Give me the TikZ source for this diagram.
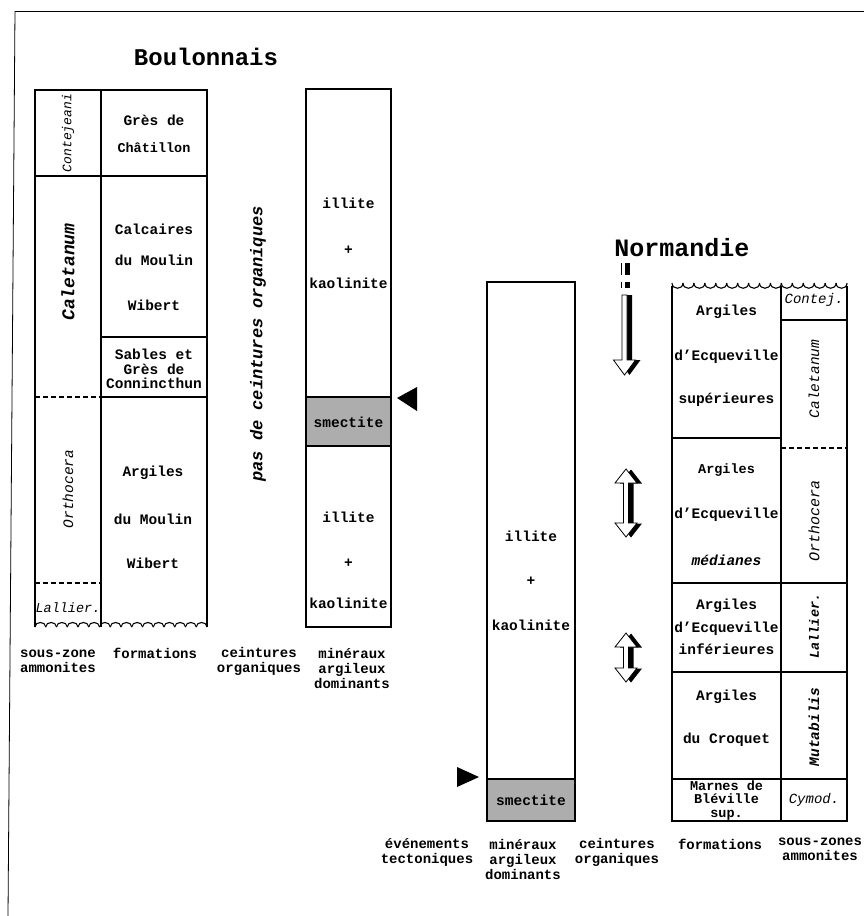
\documentclass[tikz,border=0pt]{standalone}
\usepackage{fontspec}
\setmainfont{Liberation Mono}
\setmonofont{Liberation Mono}
\begin{document}
\begin{tikzpicture}[x=1pt,y=-1pt,
  box/.style={line width=1.1pt},
  thinl/.style={line width=0.8pt},
  dsh/.style={line width=1.1pt, dash pattern=on 5pt off 3pt},
  ft/.style={font=\bfseries\fontsize{14.5}{15}\selectfont, inner sep=0pt, align=center},
  fts/.style={font=\bfseries\fontsize{13.5}{14}\selectfont, inner sep=0pt, align=center},
  lb/.style={font=\bfseries\fontsize{14}{15}\selectfont, inner sep=0pt, align=center},
  ttl/.style={font=\bfseries\fontsize{24}{24}\selectfont, inner sep=0pt},
  zr/.style={rotate=90, inner sep=0pt},
  smect/.style={fill=black!32},
  arw/.style={fill=white, draw=black, line width=0.8pt, line join=miter},
  shad/.style={fill=black},
]
\useasboundingbox (0,0) rectangle (864,916);
% frame
\draw[thinl] (15,11) -- (864,11);
\draw[thinl] (15,11) -- (8,916);

% ================= Boulonnais =================
\node[ttl] (tB) at (206,57) {Boulonnais};
\draw[box] (35,627) -- (35,90) -- (207,90) -- (207,627);
\draw[box] (101,90) -- (101,627);
\draw[box] (35,176) -- (207,176);
\draw[box] (101,337) -- (207,337);
\draw[box] (101,397) -- (207,397);
\draw[dsh] (35,397) -- (101,397);
\draw[dsh] (35,583) -- (101,583);
\foreach \i in {0,...,15}
  \draw[box] ({35+\i*10.75},627) .. controls +(0,-6) and +(0,-6) .. ({35+(\i+1)*10.75},627);

\node[zr, font=\itshape\fontsize{13}{13}\selectfont] (zB1) at (68,133) {Contejeani};
\node[zr, font=\bfseries\itshape\fontsize{18}{18}\selectfont] (zB2) at (68,272) {Caletanum};
\node[zr, font=\itshape\fontsize{14.5}{15}\selectfont] (zB3) at (68,489) {Orthocera};
\node[inner sep=0pt, font=\itshape\fontsize{13.5}{14}\selectfont] (zB4) at (68,608) {Lallier.};

\node[ft] (fB1a) at (154,120) {Grès de};
\node[fts] (fB1b) at (154,148) {Châtillon};
\node[ft] (fB2a) at (154,229) {Calcaires};
\node[ft] (fB2b) at (154,260) {du Moulin};
\node[ft] (fB2c) at (154,305) {Wibert};
\node[ft, font=\bfseries\fontsize{14.5}{14.5}\selectfont] (fB3) at (154,369) {Sables et\\Grès de\\Connincthun};
\node[ft] (fB4a) at (153,473) {Argiles};
\node[ft] (fB4b) at (153,519) {du Moulin};
\node[ft] (fB4c) at (153,563) {Wibert};

\node[zr, font=\bfseries\itshape\fontsize{17}{17}\selectfont] (pas) at (258,344) {pas de ceintures organiques};

\fill[smect] (306,397) rectangle (391,446);
\draw[box] (306,89) rectangle (391,627);
\draw[box] (306,397) -- (391,397);
\draw[box] (306,446) -- (391,446);
\node[ft] (mB1) at (348.5,203) {illite};
\node[ft] (mB2) at (348.5,250) {+};
\node[ft] (mB3) at (348.5,283) {kaolinite};
\node[ft] (mB4) at (348.5,422) {smectite};
\node[ft] (mB5) at (348.5,517) {illite};
\node[ft] (mB6) at (348.5,563) {+};
\node[ft] (mB7) at (348.5,603) {kaolinite};
\fill (397,398) -- (417,387) -- (417,411) -- cycle;

\node[lb] (lB1) at (58,661) {sous-zone\\ammonites};
\node[lb] (lB2) at (155,653) {formations};
\node[lb] (lB3) at (259,661) {ceintures\\organiques};
\node[lb] (lB4) at (352,668) {minéraux\\argileux\\dominants};

% ================= Normandie =================
\node[ttl, font=\bfseries\fontsize{25}{25}\selectfont] (tN) at (682,248) {Normandie};

\fill[smect] (487,779) rectangle (575,821);
\draw[box] (487,282) rectangle (575,821);
\draw[box] (487,779) -- (575,779);
\node[ft] (mN1) at (531,536) {illite};
\node[ft] (mN2) at (531,581) {+};
\node[ft] (mN3) at (531,625) {kaolinite};
\node[ft] (mN4) at (531,800) {smectite};
\fill (457,767) -- (479,777) -- (457,787) -- cycle;

% table
\draw[box] (672,286) -- (672,821) -- (847,821) -- (847,286);
\draw[box] (781,286) -- (781,821);
\foreach \i in {0,...,15}
  \draw[box] ({672+\i*10.94},283) .. controls +(0,7) and +(0,7) .. ({672+(\i+1)*10.94},283);
\draw[box] (781,320) -- (847,320);
\draw[box] (672,438) -- (781,438);
\draw[dsh] (781,448) -- (847,448);
\draw[box] (672,583) -- (847,583);
\draw[box] (672,672) -- (847,672);
\draw[box] (672,779) -- (847,779);

\node[ft] (fN1a) at (726.5,312) {Argiles};
\node[ft] (fN1b) at (726.5,357) {d'Ecqueville};
\node[ft] (fN1c) at (726.5,400) {supérieures};
\node[fts] (fN2a) at (726.5,470) {Argiles};
\node[ft] (fN2b) at (726.5,515) {d'Ecqueville};
\node[ft, font=\bfseries\itshape\fontsize{14.5}{15}\selectfont] (fN2c) at (726.5,560) {médianes};
\node[ft, font=\bfseries\fontsize{14.5}{22.5}\selectfont] (fN3) at (726.5,627) {Argiles\\d'Ecqueville\\inférieures};
\node[ft] (fN4a) at (726.5,697) {Argiles};
\node[ft] (fN4b) at (726.5,740) {du Croquet};
\node[ft, font=\bfseries\fontsize{13.5}{13.5}\selectfont] (fN5) at (726.5,800) {Marnes de\\Bléville\\sup.};

\node[inner sep=0pt, font=\itshape\fontsize{14}{14}\selectfont] (zN1) at (814,300) {Contej.};
\node[zr, font=\itshape\fontsize{14.5}{15}\selectfont] (zN2) at (814,379) {Caletanum};
\node[zr, font=\itshape\fontsize{15}{15}\selectfont] (zN3) at (814,521) {Orthocera};
\node[zr, font=\bfseries\itshape\fontsize{13.5}{14}\selectfont] (zN4) at (814,626) {Lallier.};
\node[zr, font=\bfseries\itshape\fontsize{14.5}{15}\selectfont] (zN5) at (814,727) {Mutabilis};
\node[inner sep=0pt, font=\itshape\fontsize{14}{14}\selectfont] (zN6) at (814,800) {Cymod.};

% tectonic arrows
\fill[shad] (624.5,263) rectangle (630,275);
\fill[shad] (624.5,282) rectangle (630,288);
\draw[thinl] (621,263) -- (621,275);
\draw[thinl] (621,282) -- (621,288);
% arrow 1 (down)
\begin{scope}[shift={(629.5,375)}]
\fill[shad] (-2.5,-80) -- (2.5,-80) -- (2.5,-15) -- (11,-15) -- (0,0) -- (-11,-15) -- (-2.5,-15) -- cycle;
\end{scope}
\begin{scope}[shift={(624.5,375)}]
\draw[arw] (-2.5,-80) -- (2.5,-80) -- (2.5,-15) -- (11,-15) -- (0,0) -- (-11,-15) -- (-2.5,-15) -- cycle;
\end{scope}
% arrow 2 (double)
\begin{scope}[shift={(631,469.5)}]
\fill[shad] (0,0) -- (11,14) -- (2.5,14) -- (2.5,54) -- (11,54) -- (0,68) -- (-11,54) -- (-2.5,54) -- (-2.5,14) -- (-11,14) -- cycle;
\end{scope}
\begin{scope}[shift={(626,469)}]
\draw[arw] (0,0) -- (11,14) -- (2.5,14) -- (2.5,54) -- (11,54) -- (0,68) -- (-11,54) -- (-2.5,54) -- (-2.5,14) -- (-11,14) -- cycle;
\end{scope}
% arrow 3 (double)
\begin{scope}[shift={(631,633.5)}]
\fill[shad] (0,0) -- (11,14) -- (2.5,14) -- (2.5,35) -- (11,35) -- (0,49) -- (-11,35) -- (-2.5,35) -- (-2.5,14) -- (-11,14) -- cycle;
\end{scope}
\begin{scope}[shift={(626,633)}]
\draw[arw] (0,0) -- (11,14) -- (2.5,14) -- (2.5,35) -- (11,35) -- (0,49) -- (-11,35) -- (-2.5,35) -- (-2.5,14) -- (-11,14) -- cycle;
\end{scope}

\node[lb] (lN1) at (427,852) {événements\\tectoniques};
\node[lb] (lN2) at (523,859) {minéraux\\argileux\\dominants};
\node[lb] (lN3) at (617,852) {ceintures\\organiques};
\node[lb] (lN4) at (720,844) {formations};
\node[lb] (lN5) at (820,849) {sous-zones\\ammonites};
\end{tikzpicture}
\end{document}
